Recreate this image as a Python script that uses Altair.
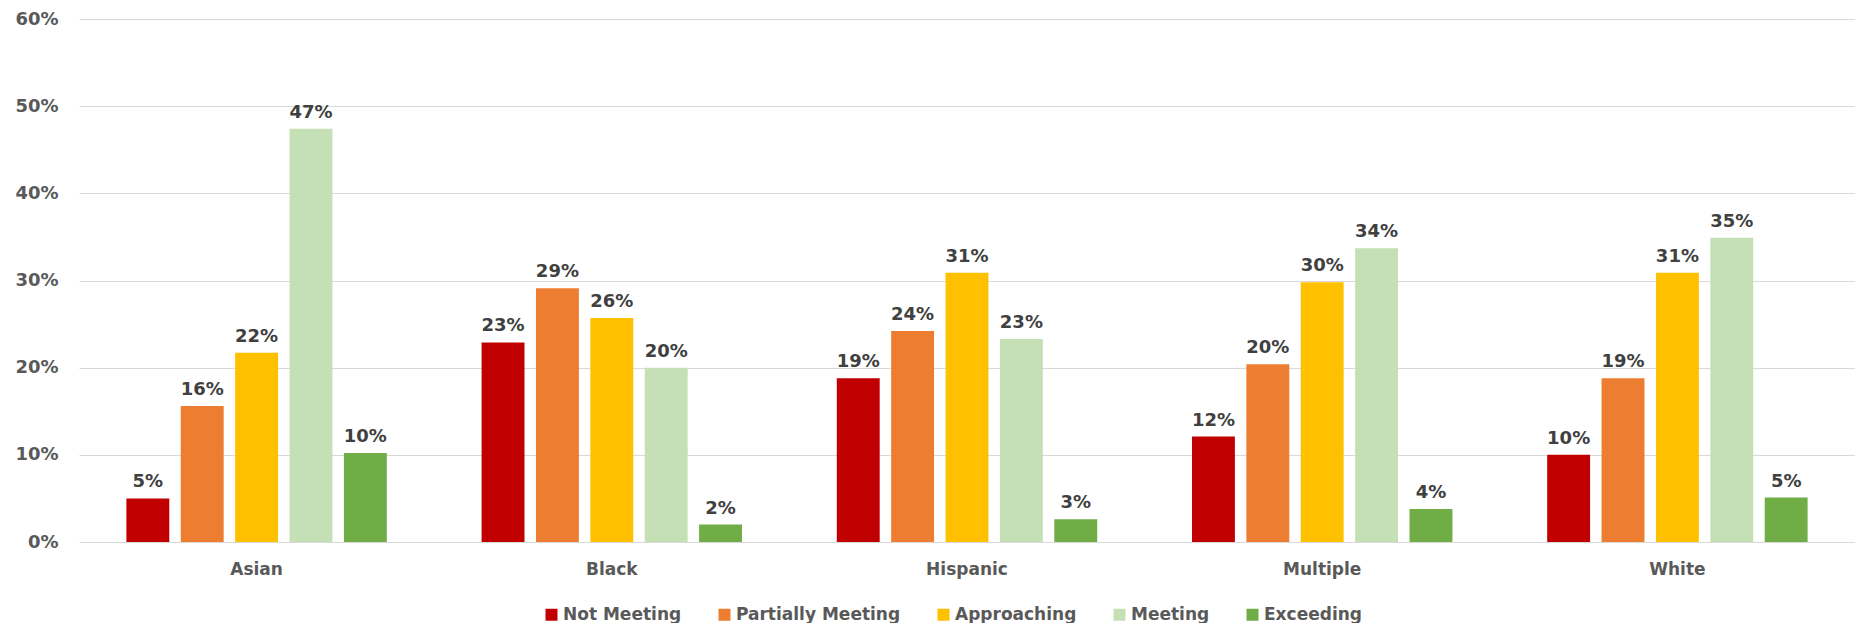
import altair as alt
import pandas as pd

groups = ["Asian", "Black", "Hispanic", "Multiple", "White"]
levels = ["Not Meeting", "Partially Meeting", "Approaching", "Meeting", "Exceeding"]
colors = ["#C00000", "#ED7D31", "#FFC000", "#C5E0B4", "#70AD47"]

not_meeting = [0.050, 0.229, 0.188, 0.121, 0.100]
partially = [0.156, 0.291, 0.242, 0.204, 0.188]
approaching = [0.217, 0.257, 0.309, 0.298, 0.309]
meeting = [0.474, 0.200, 0.233, 0.337, 0.349]
exceeding = [0.102, 0.020, 0.026, 0.038, 0.051]

series = [not_meeting, partially, approaching, meeting, exceeding]
rows = []
for lvl, vals in zip(levels, series):
    for g, v in zip(groups, vals):
        rows.append({"group": g, "level": lvl, "value": v})
df = pd.DataFrame(rows)

FONT = "DejaVu Sans"

x = alt.X("group:N", sort=groups, title=None,
          scale=alt.Scale(paddingInner=0, paddingOuter=0),
          axis=alt.Axis(labelFont=FONT, labelFontWeight="bold", labelFontSize=17,
                        labelColor="#595959", labelAngle=0, ticks=False, tickSize=0,
                        domain=False, labelPadding=19, labelBaseline="top"))
xo = alt.XOffset("level:N", sort=levels,
                 scale=alt.Scale(paddingInner=0.211, paddingOuter=0.8715))
y = alt.Y("value:Q", title=None,
          scale=alt.Scale(domain=[0, 0.6], nice=False),
          axis=alt.Axis(format=".0%", values=[0, 0.1, 0.2, 0.3, 0.4, 0.5, 0.6],
                        labelFont=FONT, labelFontWeight="bold", labelFontSize=18,
                        labelColor="#595959", ticks=False, tickSize=0, domain=False,
                        labelPadding=21, minExtent=71, maxExtent=71,
                        grid=True, gridColor="#D9D9D9", gridWidth=1))

color = alt.Color("level:N", sort=levels, title=None,
                  scale=alt.Scale(domain=levels, range=colors),
                  legend=alt.Legend(orient="none", legendX=464, legendY=587,
                                    direction="horizontal", symbolType="square",
                                    symbolSize=144, symbolStrokeWidth=0,
                                    labelFont=FONT, labelFontWeight="bold",
                                    labelFontSize=17, labelColor="#595959",
                                    labelLimit=0, labelOffset=3, columnPadding=34,
                                    padding=0))

bars = alt.Chart(df).mark_bar().encode(x=x, xOffset=xo, y=y, color=color)
labels = alt.Chart(df).mark_text(font=FONT, fontWeight="bold", fontSize=18,
                                 color="#404040", baseline="alphabetic", dy=-11).encode(
    x=alt.X("group:N", sort=groups), xOffset=alt.XOffset("level:N", sort=levels),
    y="value:Q", text=alt.Text("value:Q", format=".0%"))

chart = (bars + labels).properties(width=1776, height=523,
                                   padding={"left": 0, "top": 2, "right": 0, "bottom": 0}
                                   ).configure_view(stroke=None)

chart.save("out.html", embed_options={"renderer": "svg", "actions": False})
